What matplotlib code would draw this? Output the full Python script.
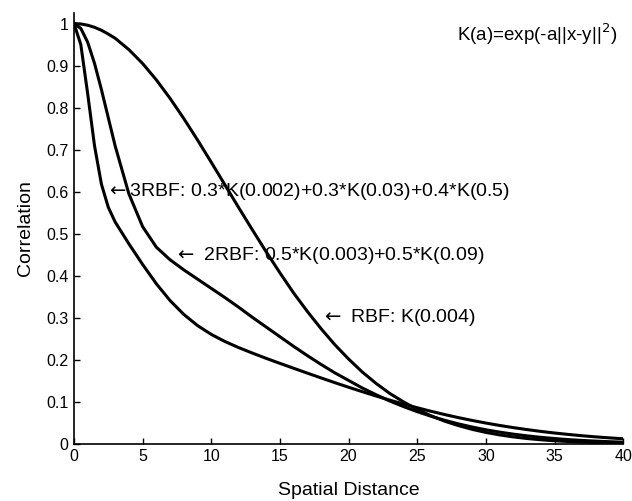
import matplotlib
matplotlib.use('Agg')
from matplotlib import pyplot as plt

# spatial distance samples and correlation values
distance = [0, 0.5, 1, 1.5, 2, 2.5, 3, 4, 5, 6, 7, 8, 9, 10, 11, 12, 13, 14, 15,
            16, 17, 18, 19, 20, 21, 22, 23, 24, 25, 26, 27, 28, 29, 30, 31, 32,
            33, 34, 35, 36, 37, 38, 39, 40]

rbf = [1.0, 0.999, 0.996, 0.991, 0.984, 0.975, 0.965, 0.938, 0.905, 0.866,
       0.822, 0.774, 0.723, 0.670, 0.616, 0.562, 0.509, 0.457, 0.407, 0.359,
       0.315, 0.274, 0.236, 0.202, 0.171, 0.144, 0.120, 0.100, 0.082, 0.067,
       0.054, 0.0435, 0.0346, 0.0273, 0.0214, 0.0166, 0.0128, 0.0098, 0.0074,
       0.0056, 0.0042, 0.0031, 0.0023, 0.0017]

rbf2 = [1.0, 0.9885, 0.9555, 0.905, 0.843, 0.776, 0.709, 0.595, 0.517, 0.468,
        0.438, 0.414, 0.392, 0.370, 0.348, 0.325, 0.301, 0.278, 0.255, 0.232,
        0.210, 0.189, 0.169, 0.151, 0.133, 0.117, 0.102, 0.0888, 0.0767, 0.0658,
        0.0561, 0.0476, 0.0401, 0.0336, 0.0280, 0.0232, 0.0191, 0.0156, 0.0127,
        0.0102, 0.0082, 0.0066, 0.0052, 0.0041]

rbf3 = [1.0, 0.950, 0.833, 0.709, 0.618, 0.563, 0.528, 0.476, 0.427, 0.381,
        0.341, 0.308, 0.2815, 0.2605, 0.2435, 0.229, 0.216, 0.2035, 0.1916,
        0.1799, 0.1683, 0.1569, 0.1457, 0.1348, 0.1242, 0.1140, 0.1041, 0.0948,
        0.0860, 0.0776, 0.0698, 0.0625, 0.0558, 0.0496, 0.0439, 0.0387, 0.0340,
        0.0297, 0.0259, 0.0225, 0.0194, 0.0167, 0.0143, 0.0122]

xticks = [0, 5, 10, 15, 20, 25, 30, 35, 40]
yticks = [0, 0.1, 0.2, 0.3, 0.4, 0.5, 0.6, 0.7, 0.8, 0.9, 1]
ytick_labels = ['0', '0.1', '0.2', '0.3', '0.4', '0.5', '0.6', '0.7', '0.8', '0.9', '1']

plt.rcParams['font.family'] = ['Liberation Sans', 'DejaVu Sans']
plt.rcParams['font.size'] = 14

fig = plt.figure(figsize=(6.32, 5.01), dpi=100)
ax = fig.add_axes([0.117, 0.114, 0.869, 0.860])

for ys in (rbf, rbf2, rbf3):
    ax.plot(distance, ys, color='black', linewidth=2.2, solid_joinstyle='round')

ax.set_xlim(0, 40)
ax.set_ylim(0, 1.025)
ax.set_xticks(xticks)
ax.set_yticks(yticks)
ax.set_yticklabels(ytick_labels)
ax.tick_params(direction='in', length=4, width=1, pad=4, labelsize=11.5)
ax.spines['top'].set_visible(False)
ax.spines['right'].set_visible(False)
ax.spines['left'].set_linewidth(1.2)
ax.spines['bottom'].set_linewidth(1.2)

ax.set_xlabel('Spatial Distance', labelpad=13)
ax.set_ylabel('Correlation', labelpad=9)

ax.text(2.3, 0.6, r'$\leftarrow$3RBF: 0.3*K(0.002)+0.3*K(0.03)+0.4*K(0.5)', va='center', ha='left')
ax.text(7.3, 0.448, r'$\leftarrow$ 2RBF: 0.5*K(0.003)+0.5*K(0.09)', va='center', ha='left')
ax.text(18.0, 0.30, r'$\leftarrow$ RBF: K(0.004)', va='center', ha='left')
ax.text(27.9, 0.975, r'K(a)=exp(-a||x-y||$^{2}$)', va='center', ha='left', fontsize=13.5)

fig.savefig('out.png', dpi=100)
plt.close('all')
